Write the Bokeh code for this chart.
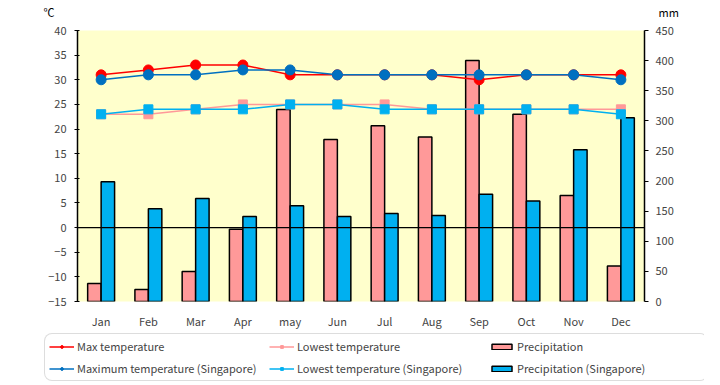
from bokeh.plotting import figure
from bokeh.models import (FactorRange, Range1d, LinearAxis, FixedTicker, Span,
                          Legend, LegendItem, ColumnDataSource)
from bokeh.core.properties import value
from bokeh.transform import dodge
from bokeh.embed import file_html
from bokeh.resources import INLINE

months = ["Jan", "Feb", "Mar", "Apr", "may", "Jun", "Jul", "Aug", "Sep", "Oct", "Nov", "Dec"]
max_temp = [31, 32, 33, 33, 31, 31, 31, 31, 30, 31, 31, 31]
low_temp = [23, 23, 24, 25, 25, 25, 25, 24, 24, 24, 24, 24]
precip = [30, 20, 50, 120, 319, 269, 292, 273, 400, 311, 176, 59]
sg_max_temp = [30, 31, 31, 32, 32, 31, 31, 31, 31, 31, 31, 30]
sg_low_temp = [23, 24, 24, 24, 25, 25, 24, 24, 24, 24, 24, 23]
sg_precip = [199, 154, 171, 141, 159, 141, 146, 143, 178, 167, 252, 305]
temp_ticks = list(range(-15, 41, 5))
mm_ticks = list(range(0, 451, 50))
unit_labels = ["℃", "mm"]

FONT = "Noto Sans CJK JP"
C_MAX, C_LOW, C_SMAX, C_SLOW = "#FF0000", "#FF9999", "#0070C0", "#00B0F0"
C_PR, C_SPR = "#FF9999", "#00B0F0"

W = 704

# ---------- header with unit labels ----------
hdr = figure(width=W, height=22, x_range=Range1d(0, W), y_range=Range1d(0, 22),
             output_backend="svg", toolbar_location=None,
             x_axis_location=None, y_axis_location=None,
             min_border=0, outline_line_color=None)
hdr.grid.visible = False
hdr.text(x=[43, 658], y=[11, 11], text=unit_labels, text_font=value(FONT),
         text_font_size="11px", text_baseline="middle", text_color="black")

# ---------- main chart ----------
src = ColumnDataSource(dict(m=months, mx=max_temp, lo=low_temp, pr=precip,
                            smx=sg_max_temp, slo=sg_low_temp, spr=sg_precip))

p = figure(width=W, height=309, x_range=FactorRange(*months),
           y_range=Range1d(-15, 40), output_backend="svg", toolbar_location=None,
           min_border_left=77, min_border_right=60, min_border_top=8, min_border_bottom=21)
p.extra_y_ranges = {"mm": Range1d(0, 450)}
p.background_fill_color = "#FFFFCC"
p.border_fill_color = "white"
p.outline_line_color = None
p.grid.visible = False

bw = 0.285
p.vbar(x=dodge("m", -bw / 2, range=p.x_range), top="pr", bottom=0, width=bw,
       source=src, y_range_name="mm", fill_color=C_PR, line_color="black", line_width=1.5)
p.vbar(x=dodge("m", bw / 2, range=p.x_range), top="spr", bottom=0, width=bw,
       source=src, y_range_name="mm", fill_color=C_SPR, line_color="black", line_width=1.5)

p.add_layout(Span(location=0, dimension="width", line_color="black", line_width=1.2))

for col, color, marker, size in [("mx", C_MAX, "circle", 10), ("lo", C_LOW, "square", 9),
                                 ("smx", C_SMAX, "circle", 10), ("slo", C_SLOW, "square", 9)]:
    p.line("m", col, source=src, line_color=color, line_width=1.5)
    p.scatter("m", col, source=src, marker=marker, size=size, fill_color=color, line_color=color)

ya = p.yaxis[0]
ya.ticker = FixedTicker(ticks=temp_ticks)
ya.major_tick_in = 2
ya.major_tick_out = 3
ya.minor_tick_line_color = None
ya.axis_line_color = "black"
ya.axis_line_width = 1.5
ya.major_label_text_font = FONT
ya.major_label_text_font_size = "11px"
ya.major_label_standoff = 8

ra = LinearAxis(y_range_name="mm", ticker=FixedTicker(ticks=mm_ticks))
ra.major_tick_in = 0
ra.major_tick_out = 4
ra.minor_tick_line_color = None
ra.axis_line_color = "black"
ra.axis_line_width = 1.5
ra.major_label_text_font = FONT
ra.major_label_text_font_size = "11px"
ra.major_label_standoff = 7
p.add_layout(ra, "right")

xa = p.xaxis[0]
xa.axis_line_color = None
xa.major_tick_line_color = None
xa.minor_tick_line_color = None
xa.major_label_text_font = FONT
xa.major_label_text_font_size = "11px"
xa.major_label_standoff = 5

# ---------- legend strip ----------
lg = figure(width=W, height=52, x_range=Range1d(0, 1), y_range=Range1d(0, 1),
            output_backend="svg", toolbar_location=None,
            x_axis_location=None, y_axis_location=None,
            min_border=0, outline_line_color=None)
lg.grid.visible = False
# placeholder source (NaN -> nothing drawn in the strip, only legend glyphs)
dummy = ColumnDataSource(dict(x=[float("nan")], y=[float("nan")]))


def line_item(color, marker, size):
    r1 = lg.line("x", "y", source=dummy, line_color=color, line_width=1.5)
    r2 = lg.scatter("x", "y", source=dummy, marker=marker, size=size,
                    fill_color=color, line_color=color)
    return [r1, r2]


def bar_item(color):
    return [lg.vbar(x="x", top="y", width=0.1, source=dummy, fill_color=color,
                    line_color="black", line_width=1.5)]


legend = Legend(items=[
    LegendItem(label="Max temperature", renderers=line_item(C_MAX, "circle", 8)),
    LegendItem(label="Lowest temperature", renderers=line_item(C_LOW, "square", 8)),
    LegendItem(label="Precipitation", renderers=bar_item(C_PR)),
    LegendItem(label="Maximum temperature (Singapore)", renderers=line_item(C_SMAX, "circle", 8)),
    LegendItem(label="Lowest temperature (Singapore)", renderers=line_item(C_SLOW, "square", 8)),
    LegendItem(label="Precipitation (Singapore)", renderers=bar_item(C_SPR)),
], ncols=3, orientation="horizontal", location=(44, 2))
legend.label_text_font = FONT
legend.label_text_font_size = "11px"
legend.glyph_width = 25
legend.glyph_height = 7
legend.label_standoff = 3
legend.label_width = 186
legend.label_height = 14
legend.spacing = 6
legend.padding = 4
legend.margin = 0
legend.border_line_color = "#BBBBBB"
legend.border_line_width = 1.5
legend.background_fill_color = "white"
if "border_radius" in Legend.properties():
    legend.border_radius = 8
lg.add_layout(legend)

open("out.html", "w").write(file_html([hdr, p, lg], INLINE))
